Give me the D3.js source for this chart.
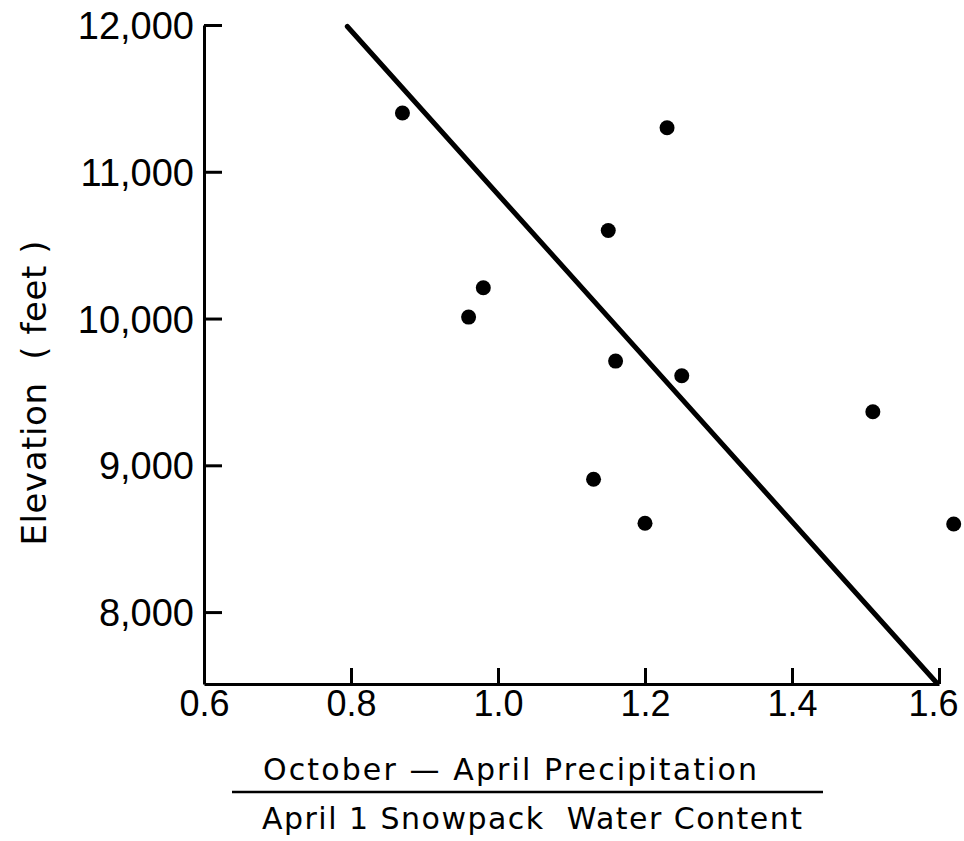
<!DOCTYPE html>
<html>
<head>
<meta charset="utf-8">
<script src="https://cdn.jsdelivr.net/npm/d3@7"></script>
<style>
  html, body { margin: 0; padding: 0; background: #fff; }
  svg { display: block; }
  text { font-family: "Liberation Sans", Arial, sans-serif; fill: #000; }
  .title { font-family: "DejaVu Sans", sans-serif; }
</style>
</head>
<body>
<svg id="chart" width="964" height="841"></svg>
<script>
// ---- data ----
const ratio = [0.87, 1.23, 1.15, 0.98, 0.96, 1.16, 1.25, 1.51, 1.13, 1.20, 1.62];
const elevation = [11400, 11300, 10600, 10210, 10010, 9710, 9610, 9365, 8905, 8605, 8600];
const lineRatio = [0.795, 1.597];
const lineElevation = [11990, 7517];
const xTicks = [0.6, 0.8, 1.0, 1.2, 1.4, 1.6];
const yTicks = [8000, 9000, 10000, 11000, 12000];
const xTitle1 = "October — April Precipitation";
const xTitle2 = "April 1 Snowpack  Water Content";
const yTitle = "Elevation  ( feet )";

// ---- layout ----
const svg = d3.select("#chart");
const x = d3.scaleLinear().domain([0.6, 1.6]).range([204, 939]);
const y = d3.scaleLinear().domain([7510, 12000]).range([684, 25]);

// y axis
const yAxis = svg.append("g")
  .attr("transform", "translate(204,0)")
  .call(d3.axisLeft(y).tickValues(yTicks).tickFormat(d3.format(",")).tickSizeInner(-18).tickSizeOuter(0).tickPadding(10));
yAxis.select(".domain").attr("stroke", "#000").attr("stroke-width", 3);
yAxis.selectAll(".tick line").attr("stroke", "#000").attr("stroke-width", 3);
yAxis.selectAll(".tick text").attr("font-size", 38).attr("dy", "0.36em")
  .style("font-family", "'Liberation Sans', Arial, sans-serif");

// x axis
const xAxis = svg.append("g")
  .attr("transform", "translate(0,684)")
  .call(d3.axisBottom(x).tickValues(xTicks).tickFormat(d3.format(".1f")).tickSizeInner(-16).tickSizeOuter(0).tickPadding(6));
xAxis.select(".domain").attr("stroke", "#000").attr("stroke-width", 3);
xAxis.selectAll(".tick line").attr("stroke", "#000").attr("stroke-width", 3);
xAxis.selectAll(".tick text").attr("font-size", 36)
  .style("font-family", "'Liberation Sans', Arial, sans-serif")
  .attr("dx", (d, i, n) => i === n.length - 1 ? -6 : 0);

// regression line
svg.append("line")
  .attr("x1", x(lineRatio[0])).attr("y1", y(lineElevation[0]))
  .attr("x2", x(lineRatio[1])).attr("y2", y(lineElevation[1]))
  .attr("stroke", "#000").attr("stroke-width", 5).attr("stroke-linecap", "round");

// points
svg.append("g").selectAll("circle")
  .data(ratio.map((r, i) => [r, elevation[i]]))
  .join("circle")
  .attr("cx", d => x(d[0])).attr("cy", d => y(d[1]))
  .attr("r", 7.5).attr("fill", "#000");

// x title (fraction)
svg.append("text").attr("class", "title").attr("x", 510).attr("y", 780).attr("text-anchor", "middle")
  .attr("font-size", 30).attr("textLength", 494).attr("lengthAdjust", "spacing")
  .style("white-space", "pre").text(xTitle1);
svg.append("line").attr("x1", 232).attr("x2", 823).attr("y1", 792).attr("y2", 792)
  .attr("stroke", "#000").attr("stroke-width", 2.5);
svg.append("text").attr("class", "title").attr("x", 532).attr("y", 829).attr("text-anchor", "middle")
  .attr("font-size", 30).attr("textLength", 540).attr("lengthAdjust", "spacing")
  .style("white-space", "pre").text(xTitle2);

// y title
svg.append("text").attr("class", "title").attr("transform", "translate(46,393) rotate(-90)")
  .attr("text-anchor", "middle").attr("font-size", 34)
  .attr("textLength", 305).attr("lengthAdjust", "spacing")
  .style("white-space", "pre").text(yTitle);
</script>
</body>
</html>
